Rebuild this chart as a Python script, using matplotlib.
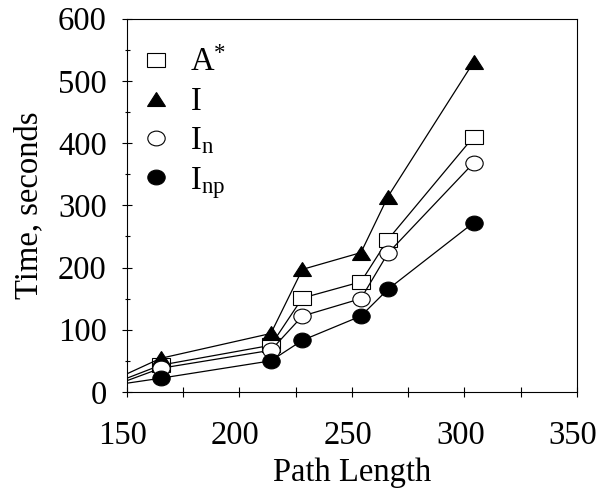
import numpy as np
import matplotlib
matplotlib.use('Agg')
import matplotlib.pyplot as plt
from matplotlib.markers import MarkerStyle
from matplotlib.transforms import Affine2D, ScaledTranslation
from matplotlib.ticker import MultipleLocator
from matplotlib.lines import Line2D

plt.rcParams['font.family'] = ['Liberation Serif', 'DejaVu Serif']
plt.rcParams['mathtext.fontset'] = 'custom'
plt.rcParams['mathtext.rm'] = 'Liberation Serif'
plt.rcParams['mathtext.it'] = 'Liberation Serif'

# path length (first value is the line start at the axis edge, no marker)
path_len = [150, 165, 214, 228, 254, 266, 304]
t_astar = [22, 43, 75, 151, 177, 245, 410]
t_i = [29, 54, 94, 197, 224, 314, 530]
t_in = [18, 38, 67, 122, 150, 223, 368]
t_inp = [14, 22, 50, 83, 122, 165, 272]

labels = [r'A$^{*}$', 'I', r'I$_{\mathrm{n}}$', r'I$_{\mathrm{np}}$']
series = [t_astar, t_i, t_in, t_inp]
markers = ['s', '^', 'o', 'o']
faces = ['white', 'black', 'white', 'black']

fs = 23.5
squash = Affine2D().scale(1.0, 0.85)

fig = plt.figure(figsize=(5.98, 4.93), dpi=100)
ax = fig.add_axes([0.212, 0.205, 0.753, 0.757])

handles = []
for y, m, fc, lab in zip(series, markers, faces, labels):
    ax.plot(path_len, y, '-', color='black', lw=0.9,
            marker=MarkerStyle(m, transform=squash), markersize=12.5,
            markerfacecolor=fc, markeredgecolor='black', markeredgewidth=0.8,
            markevery=range(1, len(path_len)))
    handles.append(Line2D([], [], linestyle='none',
                          marker=MarkerStyle(m, transform=squash), markersize=12.5,
                          markerfacecolor=fc, markeredgecolor='black',
                          markeredgewidth=0.8, label=lab))

ax.set_xlim(150, 350)
ax.set_ylim(0, 600)
ax.xaxis.set_major_locator(MultipleLocator(50))
ax.xaxis.set_minor_locator(MultipleLocator(25))
ax.yaxis.set_major_locator(MultipleLocator(100))
ax.yaxis.set_minor_locator(MultipleLocator(50))
ax.tick_params(axis='x', which='both', direction='inout', length=7, width=0.8,
               labelsize=fs, pad=17)
ax.tick_params(axis='y', which='major', direction='inout', length=7, width=0.8,
               labelsize=fs, pad=11)
ax.tick_params(axis='y', which='minor', direction='inout', length=3.6, width=0.8)
for s in ax.spines.values():
    s.set_linewidth(0.8)

shift = ScaledTranslation(-0.04, 0, fig.dpi_scale_trans)
for lbl in ax.get_xticklabels():
    lbl.set_transform(lbl.get_transform() + shift)

ax.set_xlabel('Path Length', fontsize=fs, labelpad=5)
ax.set_ylabel('Time, seconds', fontsize=fs, labelpad=10)

ax.legend(handles=handles, loc='upper left', bbox_to_anchor=(0.0, 0.967),
          frameon=False, fontsize=fs, handlelength=0.8, handletextpad=0.65,
          labelspacing=0.26, borderaxespad=0.0, borderpad=0.5)

fig.savefig('out.png', dpi=100)
